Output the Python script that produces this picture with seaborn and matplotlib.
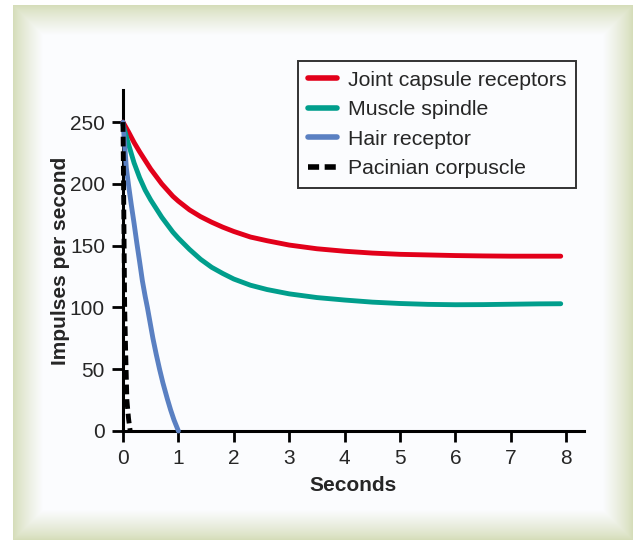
import numpy as np
import pandas as pd
import seaborn as sns
import matplotlib.pyplot as plt

# values (seconds, impulses per second)
joint_x = [0, 0.1, 0.2, 0.3, 0.4, 0.5, 0.6, 0.7, 0.8, 0.9, 1.0, 1.2, 1.4, 1.6, 1.8, 2.0,
           2.3, 2.6, 3.0, 3.5, 4.0, 4.5, 5.0, 5.5, 6.0, 6.5, 7.0, 7.5, 7.9]
joint_y = [250, 242, 233.5, 226, 219, 212, 206, 200, 195, 190, 186, 179, 173.5, 169, 165, 161.5,
           157, 154, 150.5, 147.5, 145.5, 144, 143, 142.5, 142, 141.7, 141.5, 141.5, 141.5]

spindle_x = [0, 0.1, 0.2, 0.3, 0.4, 0.5, 0.6, 0.7, 0.8, 0.9, 1.0, 1.2, 1.4, 1.6, 1.8, 2.0,
             2.3, 2.6, 3.0, 3.5, 4.0, 4.5, 5.0, 5.5, 6.0, 6.5, 7.0, 7.5, 7.9]
spindle_y = [248, 232, 217, 205, 195, 187, 180, 173, 167, 161, 156, 147, 139, 132.5, 127.5, 123,
             118, 114.5, 111, 108, 106, 104.3, 103.2, 102.5, 102.2, 102.3, 102.6, 102.9, 103]

hair_x = [0, 0.03, 0.06, 0.1, 0.15, 0.2, 0.25, 0.3, 0.35, 0.4, 0.44, 0.5, 0.54, 0.6, 0.66,
          0.72, 0.8, 0.86, 0.92, 1.0]
hair_y = [250, 232, 213, 199, 183, 168, 152, 137, 121.5, 109, 100, 85, 75, 62, 50,
          39, 26, 17, 9, 0]

pacinian_x = [0, 0.01, 0.02, 0.03, 0.05, 0.07, 0.1, 0.13]
pacinian_y = [250, 200, 150, 100, 60, 25, 10, 0]

names = ["Joint capsule receptors", "Muscle spindle", "Hair receptor", "Pacinian corpuscle"]
colors = ["#E2001A", "#009E8C", "#5A80C2", "#000000"]

df = pd.concat([
    pd.DataFrame({"Seconds": joint_x, "Rate": joint_y, "Receptor": names[0]}),
    pd.DataFrame({"Seconds": spindle_x, "Rate": spindle_y, "Receptor": names[1]}),
    pd.DataFrame({"Seconds": hair_x, "Rate": hair_y, "Receptor": names[2]}),
    pd.DataFrame({"Seconds": pacinian_x, "Rate": pacinian_y, "Receptor": names[3]}),
], ignore_index=True)

sns.set_style("ticks")
plt.rcParams["font.family"] = ["Liberation Sans", "DejaVu Sans"]

W, H = 637, 540
fig = plt.figure(figsize=(W / 100, H / 100), dpi=100)

# framed panel background with a soft green bevel
bg = fig.add_axes([0, 0, 1, 1], zorder=-1)
yy, xx = np.mgrid[0:H, 0:W] + 0.5
x0, x1, y0, y1 = 13, 633, 5, 540
d = np.minimum.reduce([xx - x0, x1 - xx, yy - y0, y1 - yy])
t = np.clip(d / 30.0, 0, 1) ** 0.8
edge = np.array([212, 220, 183]) / 255
inner = np.array([251, 252, 254]) / 255
img = edge[None, None, :] * (1 - t[..., None]) + inner[None, None, :] * t[..., None]
img[d < 0] = 1.0
bg.imshow(img, extent=[0, W, H, 0], aspect="auto", interpolation="bilinear")
bg.set_xlim(0, W)
bg.set_ylim(H, 0)
bg.axis("off")

ax = fig.add_axes([123 / W, 1 - 431 / H, (584 - 123) / W, (431 - 90) / H])
ax.set_facecolor("none")

sns.lineplot(data=df, x="Seconds", y="Rate", hue="Receptor", style="Receptor",
             hue_order=names, style_order=names, palette=colors,
             dashes={names[0]: "", names[1]: "", names[2]: "", names[3]: (2.0, 1.0)},
             estimator=None, sort=False, linewidth=3.5, ax=ax, legend=True)
for line in ax.get_lines():
    line.set_zorder(3)
    line.set_clip_on(False)

ax.set_xlim(0, 8.32)
ax.set_ylim(0, 276)
ax.set_xticks(range(0, 9))
ax.set_yticks(range(0, 251, 50))
sns.despine(ax=ax)
for s in ["left", "bottom"]:
    ax.spines[s].set_linewidth(2.2)
    ax.spines[s].set_color("black")
ax.tick_params(axis="both", length=8, width=2, color="black", labelsize=15, pad=5)
ax.set_xlabel("Seconds", fontsize=15, fontweight="bold", labelpad=6)
ax.set_ylabel("Impulses per second", fontsize=15, fontweight="bold", labelpad=0)

leg = ax.legend(loc="upper left", bbox_to_anchor=(298 / W, 1 - 61 / H), bbox_transform=fig.transFigure,
                fontsize=15.3, frameon=True, fancybox=False, handlelength=1.4, handletextpad=0.5,
                labelspacing=0.5, borderpad=0.45, borderaxespad=0)
leg.get_frame().set_edgecolor("black")
leg.get_frame().set_linewidth(1.4)
leg.get_frame().set_facecolor("none")
for line in leg.get_lines():
    line.set_linewidth(4)

fig.savefig("out.png", dpi=100)
